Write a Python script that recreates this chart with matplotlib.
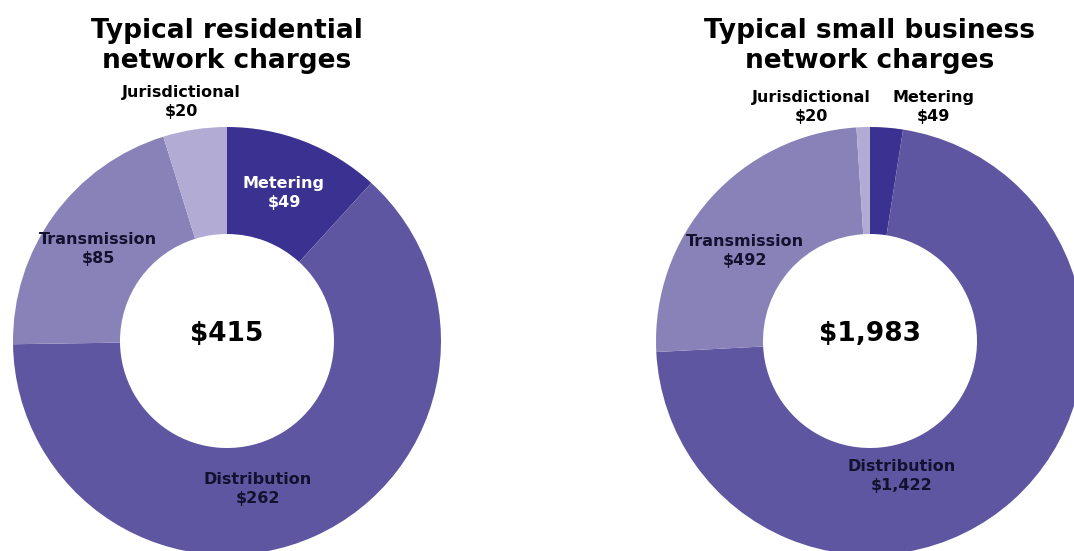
import matplotlib.pyplot as plt

# ---------------------------------------------------------------------
# DATA
# ---------------------------------------------------------------------
categories = ["Metering", "Distribution", "Transmission", "Jurisdictional"]
residential = [49, 262, 85, 20]
business = [49, 1422, 492, 20]
residential_total = "$415"
business_total = "$1,983"
titles = ["Typical residential\nnetwork charges", "Typical small business\nnetwork charges"]

# ---------------------------------------------------------------------
# STYLE / LAYOUT (pixel coords, y measured from top)
# ---------------------------------------------------------------------
W, H = 1074, 551
COLORS = ["#3b3190", "#5f56a1", "#8882b8", "#b2acd4"]
LABEL_DARK = "#12112e"
OUTER_R, INNER_R = 214, 107

charts = [
    dict(values=residential, total=residential_total, title=titles[0], cx=227, cy=341,
         label_pos=[(284, 193, "white"), (258, 489, LABEL_DARK),
                    (98, 249, LABEL_DARK), (181, 102, "black")]),
    dict(values=business, total=business_total, title=titles[1], cx=870, cy=341,
         label_pos=[(933, 107, "black"), (902, 476, LABEL_DARK),
                    (745, 251, LABEL_DARK), (811, 107, "black")]),
]


def fmt(v):
    return f"${v:,}"


fig = plt.figure(figsize=(W / 100, H / 100), dpi=100)
ax = fig.add_axes([0, 0, 1, 1])

for ch in charts:
    ax.pie(ch["values"], colors=COLORS, startangle=90, counterclock=False,
           radius=OUTER_R, center=(ch["cx"], H - ch["cy"]),
           wedgeprops=dict(width=OUTER_R - INNER_R, linewidth=0))

    ax.text(ch["cx"], H - 46, ch["title"], ha="center", va="center",
            fontsize=19, fontweight="bold", linespacing=1.2, color="black")
    ax.text(ch["cx"], H - ch["cy"] + 7, ch["total"], ha="center", va="center",
            fontsize=19, fontweight="bold", color="black")

    for name, val, (x, y, col) in zip(categories, ch["values"], ch["label_pos"]):
        ax.text(x, H - y, f"{name}\n{fmt(val)}", ha="center", va="center",
                fontsize=11.5, fontweight="bold", color=col, linespacing=1.3)

ax.set_xlim(0, W)
ax.set_ylim(0, H)
ax.set_aspect("equal")
ax.axis("off")

fig.savefig("out.png", dpi=100, facecolor="white")
